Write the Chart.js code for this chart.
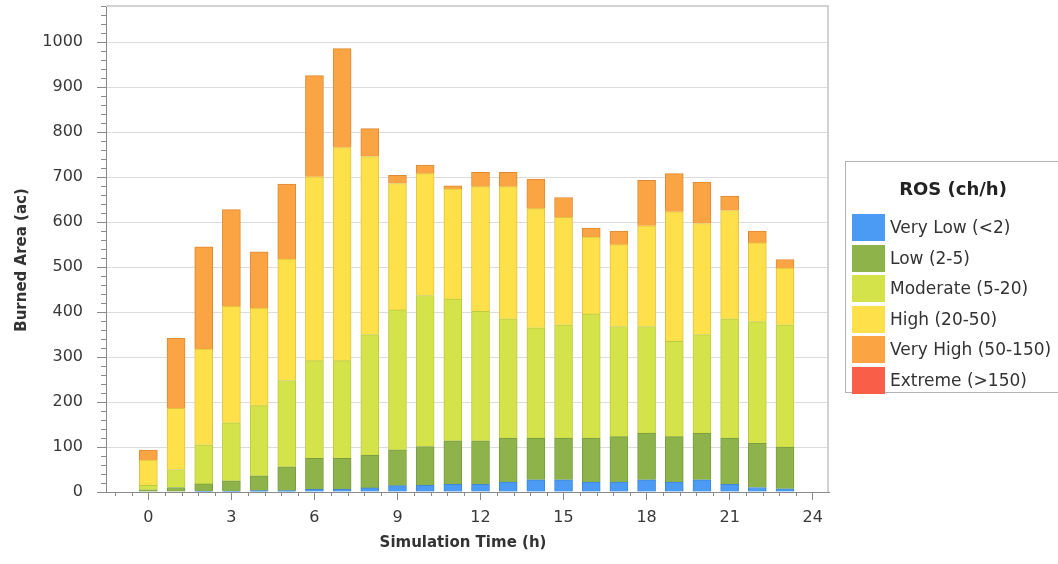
<!DOCTYPE html>
<html>
<head>
<meta charset="utf-8">
<script src="https://cdn.jsdelivr.net/npm/chart.js@4.4.1/dist/chart.umd.min.js"></script>
<style>
html,body{margin:0;padding:0;background:#fff;overflow:hidden;}
#wrap{position:relative;width:1058px;height:564px;overflow:hidden;}
#c{position:absolute;left:0;top:0;}
#legend{position:absolute;left:845px;top:161px;width:240px;height:232px;border:1px solid #b4b4b4;border-right:none;background:#fff;box-sizing:border-box;font-family:'DejaVu Sans',sans-serif;color:#333;}
#legend .title{position:absolute;left:0;width:214px;top:15px;text-align:center;font-weight:bold;font-size:18px;color:#222;line-height:24px;}
#legend .item{position:absolute;left:6px;height:27px;}
#legend .sw{position:absolute;left:0;top:0;width:33px;height:27px;}
#legend .lbl{position:absolute;left:38px;top:0;line-height:27px;font-size:17px;white-space:nowrap;}
</style>
</head>
<body>
<div id="wrap">
<canvas id="c" width="1058" height="564"></canvas>
<div id="legend"></div>
</div>
<script>
// ---- data ----
const hours = [0,1,2,3,4,5,6,7,8,9,10,11,12,13,14,15,16,17,18,19,20,21,22,23];
const veryLow  = [0,0,2,2,3,3,6,6,9,14,15,17,17,22,27,27,22,22,27,22,27,17,10,7];
const low      = [5,10,16,23,33,53,69,69,73,80,86,97,97,98,93,93,98,101,104,101,104,103,98,93];
const moderate = [10,40,87,129,156,192,217,217,268,311,336,315,288,265,245,252,276,245,237,212,219,265,271,272];
const high     = [56,136,213,259,217,270,409,474,396,281,271,245,277,294,265,239,171,182,224,288,247,241,175,126];
const veryHigh = [22,156,227,215,125,167,225,220,62,18,19,7,32,32,66,44,20,30,101,85,92,32,26,19];
const extreme  = [0,0,0,0,0,0,0,0,0,0,0,0,0,0,0,0,0,0,0,0,0,0,0,0];
const seriesNames = ['Very Low (<2)','Low (2-5)','Moderate (5-20)','High (20-50)','Very High (50-150)','Extreme (>150)'];
const seriesValues = [veryLow, low, moderate, high, veryHigh, extreme];
const xTickValues = [0,3,6,9,12,15,18,21,24];
const yTickValues = [0,100,200,300,400,500,600,700,800,900,1000];

// ---- styles ----
const fills   = ['#4b9bf5','#8db34a','#d5e34b','#fde04a','#fba444','#f95f48'];
const borders = ['#3f86d6','#7a9c3e','#bccb3e','#e2c43c','#dd8a33','#d94c38'];
const FONT = "'DejaVu Sans', sans-serif";
const AXIS = '#8a8a8a';

const extras = {
  id: 'extras',
  afterDraw(chart) {
    const {ctx, chartArea: a, scales: {x, y}} = chart;
    ctx.save();
    // frame top / right
    ctx.strokeStyle = '#d2d2d2';
    ctx.lineWidth = 2;
    ctx.beginPath();
    ctx.moveTo(a.left, a.top + 1); ctx.lineTo(a.right - 1, a.top + 1); ctx.lineTo(a.right - 1, a.bottom);
    ctx.stroke();
    // minor ticks
    ctx.strokeStyle = AXIS;
    ctx.lineWidth = 1;
    ctx.beginPath();
    for (let v = 20; v <= y.max; v += 20) {
      if (v % 100 === 0) continue;
      const py = Math.round(y.getPixelForValue(v)) + 0.5;
      ctx.moveTo(a.left - 5, py); ctx.lineTo(a.left, py);
    }
    for (let k = -3; k <= 41; k++) {
      if (k % 5 === 0) continue;
      const v = k * 0.6;
      if (v < x.min || v > x.max) continue;
      const px = Math.round(x.getPixelForValue(v)) + 0.5;
      ctx.moveTo(px, a.bottom); ctx.lineTo(px, a.bottom + 4);
    }
    ctx.stroke();
    // axis titles
    ctx.fillStyle = '#333';
    ctx.font = "bold 15px " + FONT;
    ctx.textAlign = 'center';
    ctx.textBaseline = 'middle';
    ctx.fillText('Simulation Time (h)', 463, 543);
    ctx.translate(22.5, 260);
    ctx.rotate(-Math.PI / 2);
    ctx.fillText('Burned Area (ac)', 0, 0);
    ctx.restore();
  }
};

new Chart(document.getElementById('c'), {
  type: 'bar',
  data: {
    labels: hours,
    datasets: seriesNames.map((n, i) => ({
      label: n,
      data: seriesValues[i],
      backgroundColor: fills[i],
      borderColor: borders[i],
      borderWidth: 1,
      barThickness: 18
    }))
  },
  options: {
    responsive: false,
    animation: false,
    layout: {padding: {left: 0, right: 229, top: 5, bottom: 0}},
    plugins: {legend: {display: false}, tooltip: {enabled: false}},
    scales: {
      x: {
        type: 'linear', min: -1.53, max: 24.59, stacked: true, offset: false,
        afterBuildTicks: s => { s.ticks = xTickValues.map(v => ({value: v})); },
        afterFit: s => { s.height = 72; s.paddingLeft = 0; s.paddingRight = 0; },
        grid: {drawOnChartArea: false, tickLength: 8, tickColor: AXIS, offset: false},
        border: {color: AXIS, width: 1},
        ticks: {font: {family: FONT, size: 16}, color: '#383838', padding: 8, maxRotation: 0, autoSkip: false,
                callback: v => String(v)}
      },
      y: {
        type: 'linear', min: 0, max: 1083, stacked: true,
        afterBuildTicks: s => { s.ticks = yTickValues.map(v => ({value: v})); },
        afterFit: s => { s.width = 106; s.paddingTop = 0; s.paddingBottom = 0; },
        grid: {color: '#dcdcdc', tickLength: 9, tickColor: AXIS},
        border: {color: AXIS, width: 1},
        ticks: {font: {family: FONT, size: 16}, color: '#383838', padding: 14, autoSkip: false,
                callback: v => String(v)}
      }
    }
  },
  plugins: [extras]
});

// ---- legend ----
const lg = document.getElementById('legend');
const t = document.createElement('div');
t.className = 'title';
t.textContent = 'ROS (ch/h)';
lg.appendChild(t);
seriesNames.forEach((n, i) => {
  const it = document.createElement('div');
  it.className = 'item';
  it.style.top = (52 + i * 30.5) + 'px';
  const sw = document.createElement('div');
  sw.className = 'sw';
  sw.style.background = fills[i];
  const lb = document.createElement('div');
  lb.className = 'lbl';
  lb.textContent = n;
  it.appendChild(sw); it.appendChild(lb);
  lg.appendChild(it);
});
</script>
</body>
</html>
